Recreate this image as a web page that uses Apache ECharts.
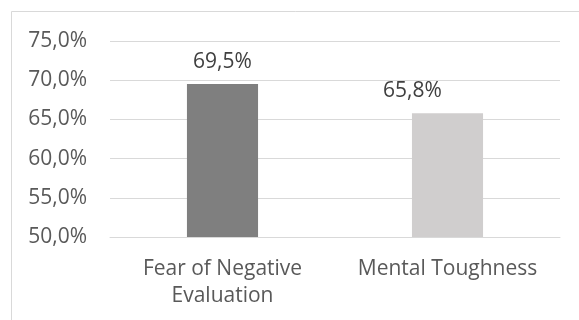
<!DOCTYPE html>
<html><head><meta charset="utf-8">
<script src="https://cdn.jsdelivr.net/npm/echarts@6/dist/echarts.min.js"></script>
<style>html,body{margin:0;padding:0;background:#fff}#c{width:579px;height:320px}</style>
</head><body><div id="c"></div>
<script>
const categories = ['Fear of Negative\nEvaluation', 'Mental Toughness'];
const values = [69.5, 65.8];
const barColors = ['#7f7f7f', '#d0cece'];
const yMin = 50, yMax = 75, yStep = 5;

const fmt = v => v.toFixed(1).replace('.', ',') + '%';
const chart = echarts.init(document.getElementById('c'), null, {renderer: 'canvas'});
const font = '"Open Sans", "Noto Sans", sans-serif';
const labelOffsets = [[0, 0], [-35, 0]];
chart.setOption({
  animation: false,
  backgroundColor: '#fff',
  graphic: [{type: 'rect', shape: {x: 11.5, y: 11.5, width: 700, height: 500},
    style: {fill: 'none', stroke: '#d9d9d9', lineWidth: 1}, silent: true}],
  grid: {left: 110, right: 19, top: 41, bottom: 83},
  xAxis: {
    type: 'category', data: categories,
    axisLine: {lineStyle: {color: '#d9d9d9', width: 1}},
    axisTick: {show: false},
    axisLabel: {color: '#595959', fontFamily: font, fontSize: 21, lineHeight: 27, margin: 19, interval: 0}
  },
  yAxis: {
    type: 'value', min: yMin, max: yMax, interval: yStep,
    axisLine: {show: false}, axisTick: {show: false},
    splitLine: {lineStyle: {color: '#d9d9d9', width: 1}},
    axisLabel: {color: '#595959', fontFamily: font, fontSize: 21, margin: 23, formatter: v => fmt(v)}
  },
  series: [{
    type: 'bar', barWidth: '31.6%',
    data: values.map((v, i) => ({value: v, itemStyle: {color: barColors[i]},
      label: {offset: labelOffsets[i]}})),
    label: {show: true, position: 'top', distance: 12, color: '#404040', fontFamily: font, fontSize: 21,
      formatter: p => fmt(p.value)}
  }]
});
</script></body></html>
